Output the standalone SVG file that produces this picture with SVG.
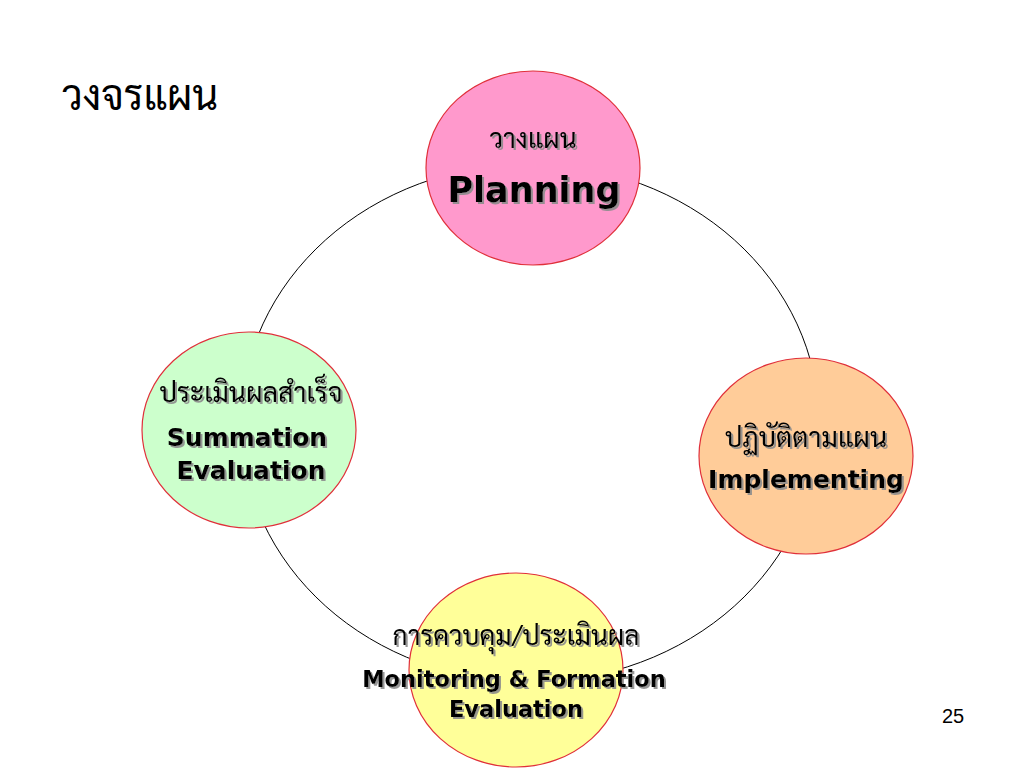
<svg xmlns="http://www.w3.org/2000/svg" width="1024" height="768" viewBox="0 0 1024 768">
  <defs>
    <filter id="shadow" x="-10%" y="-30%" width="120%" height="160%">
      <feDropShadow dx="2" dy="2" stdDeviation="0.6" flood-color="#8c8c8c" flood-opacity="0.9"/>
    </filter>
  </defs>
  <style>
    .node { stroke: #e0303a; stroke-width: 1.2; }
    .en { font-family: "DejaVu Sans", "Verdana", sans-serif; font-weight: bold; fill: #000; text-anchor: middle; filter: url(#shadow); }
    .th { font-family: "Norasi", "Kinnari", "Laksaman", "Sarabun", "Noto Serif Thai", "Noto Sans Thai", "Garuda", "Loma", "Liberation Serif", serif; fill: #000; text-anchor: middle; filter: url(#shadow); }
    .title { font-family: "Norasi", "Kinnari", "Laksaman", "Sarabun", "Noto Serif Thai", "Noto Sans Thai", "Liberation Serif", serif; fill: #000; }
    .ring { fill: none; stroke: #000; stroke-width: 1; }
  </style>
  <rect width="1024" height="768" fill="#ffffff"/>

  <text class="title" x="62" y="110" font-size="42" textLength="156" lengthAdjust="spacingAndGlyphs">วงจรแผน</text>

  <g id="connectors">
    <ellipse class="ring" cx="530" cy="423" rx="289" ry="259"/>
  </g>

  <g id="planning">
    <ellipse class="node" cx="533" cy="168" rx="107" ry="97" fill="#ff99cc"/>
    <text class="th" x="533" y="148" font-size="27" textLength="87" lengthAdjust="spacingAndGlyphs">วางแผน</text>
    <text class="en" x="534" y="202" font-size="35">Planning</text>
  </g>

  <g id="implementing">
    <ellipse class="node" cx="806" cy="456" rx="107" ry="98" fill="#ffcc99"/>
    <text class="th" x="806" y="447" font-size="27" textLength="162" lengthAdjust="spacingAndGlyphs">ปฏิบัติตามแผน</text>
    <text class="en" x="806" y="488" font-size="25">Implementing</text>
  </g>

  <g id="summation">
    <ellipse class="node" cx="249" cy="430" rx="107" ry="98" fill="#ccffcc"/>
    <text class="th" x="251" y="402" font-size="27" textLength="183" lengthAdjust="spacingAndGlyphs">ประเมินผลสำเร็จ</text>
    <text class="en" x="247" y="446" font-size="25">Summation</text>
    <text class="en" x="251" y="479" font-size="25">Evaluation</text>
  </g>

  <g id="monitoring">
    <ellipse class="node" cx="516" cy="670" rx="107" ry="97" fill="#ffff99"/>
    <text class="th" x="516" y="645" font-size="27" textLength="247" lengthAdjust="spacingAndGlyphs">การควบคุม/ประเมินผล</text>
    <text class="en" x="514" y="687" font-size="22.5">Monitoring &amp; Formation</text>
    <text class="en" x="516" y="717" font-size="22.5">Evaluation</text>
  </g>

  <text x="953" y="723" font-family="Liberation Sans, Arial, sans-serif" font-size="20" fill="#000" text-anchor="middle">25</text>
</svg>
